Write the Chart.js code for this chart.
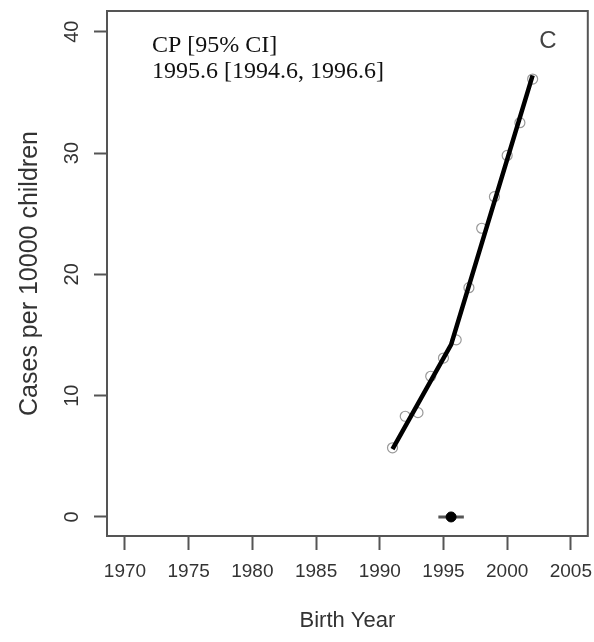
<!DOCTYPE html>
<html>
<head>
<meta charset="utf-8">
<script src="https://cdn.jsdelivr.net/npm/chart.js@4.4.0/dist/chart.umd.min.js"></script>
<style>
  body { margin: 0; background: #fff; }
  canvas { display: block; }
</style>
</head>
<body>
<canvas id="canvas" width="594" height="642"></canvas>
<script>
// observed rates by birth year
const years = [1991, 1992, 1993, 1994, 1995, 1996, 1997, 1998, 1999, 2000, 2001, 2002];
const cases = [5.7, 8.3, 8.6, 11.6, 13.1, 14.6, 18.9, 23.8, 26.4, 29.8, 32.5, 36.1];

// joinpoint fit
const fitYears = [1991, 1995.6, 2002];
const fitCases = [5.6, 14.2, 36.4];

// change point and its 95% CI
const cpYear = 1995.6;
const cpLow = 1994.6;
const cpHigh = 1996.6;

const xTicks = [1970, 1975, 1980, 1985, 1990, 1995, 2000, 2005];
const yTicks = [0, 10, 20, 30, 40];

const sans = '"Liberation Sans", Arial, sans-serif';

function pts(xs, ys) {
  return xs.map((x, i) => ({ x: x, y: ys[i] }));
}

// R style box + annotation text
const extras = {
  id: 'extras',
  afterDraw(chart) {
    const c = chart.ctx;
    const a = chart.chartArea;
    c.save();
    c.strokeStyle = '#555';
    c.lineWidth = 2;
    c.strokeRect(a.left, a.top, a.right - a.left, a.bottom - a.top);

    c.fillStyle = '#111';
    c.font = '24px "Liberation Serif", "Times New Roman", serif';
    c.textAlign = 'left';
    c.textBaseline = 'alphabetic';
    c.fillText('CP [95% CI]', 152, 52);
    c.fillText(cpYear.toFixed(1) + ' [' + cpLow.toFixed(1) + ', ' + cpHigh.toFixed(1) + ']', 152, 78);

    c.fillStyle = '#444';
    c.font = '24px ' + sans;
    c.textAlign = 'center';
    c.textBaseline = 'middle';
    c.fillText('C', 548, 41);
    c.restore();
  }
};

const ctx = document.getElementById('canvas');
new Chart(ctx, {
  type: 'scatter',
  data: {
    datasets: [
      {
        label: 'fit',
        data: pts(fitYears, fitCases),
        showLine: true,
        borderColor: '#000',
        borderWidth: 4.5,
        pointRadius: 0,
        order: 0
      },
      {
        label: 'observed',
        data: pts(years, cases),
        pointRadius: 5,
        pointBorderWidth: 1.2,
        pointBorderColor: '#999',
        pointBackgroundColor: 'rgba(0,0,0,0)',
        order: 2
      },
      {
        label: 'CI',
        data: [{ x: cpLow, y: 0 }, { x: cpHigh, y: 0 }],
        showLine: true,
        borderColor: '#555',
        borderWidth: 3,
        pointRadius: 0,
        order: 1
      },
      {
        label: 'CP',
        data: [{ x: cpYear, y: 0 }],
        pointRadius: 5,
        pointBackgroundColor: '#000',
        pointBorderColor: '#000',
        order: 0
      }
    ]
  },
  options: {
    responsive: false,
    animation: false,
    layout: { padding: { top: 11, right: 6, left: 0, bottom: 0 } },
    plugins: {
      legend: { display: false },
      tooltip: { enabled: false }
    },
    scales: {
      x: {
        type: 'linear',
        min: 1968.59,
        max: 2006.33,
        afterFit(scale) {
          scale.height = 106;
          scale.paddingLeft = 0;
          scale.paddingRight = 0;
        },
        afterBuildTicks(scale) { scale.ticks = xTicks.map(v => ({ value: v })); },
        border: { display: false },
        grid: { drawOnChartArea: false, tickLength: 14, tickColor: '#555', tickWidth: 2 },
        ticks: {
          autoSkip: false,
          maxRotation: 0,
          padding: 10,
          color: '#333',
          font: { family: sans, size: 19 },
          callback: (v) => String(v)
        },
        title: {
          display: true,
          text: 'Birth Year',
          color: '#333',
          padding: { top: 0, bottom: 8 },
          font: { family: sans, size: 22 }
        }
      },
      y: {
        type: 'linear',
        min: -1.57,
        max: 41.71,
        afterFit(scale) {
          scale.width = 107;
          scale.paddingTop = 0;
          scale.paddingBottom = 0;
        },
        afterBuildTicks(scale) { scale.ticks = yTicks.map(v => ({ value: v })); },
        border: { display: false },
        grid: { drawOnChartArea: false, tickLength: 13, tickColor: '#555', tickWidth: 2 },
        ticks: {
          minRotation: 90,
          maxRotation: 90,
          crossAlign: 'center',
          padding: 10,
          color: '#333',
          font: { family: sans, size: 20 },
          callback: (v) => String(v)
        },
        title: {
          display: true,
          text: 'Cases per 10000 children',
          color: '#333',
          padding: { top: 15, bottom: 0 },
          font: { family: sans, size: 25 }
        }
      }
    }
  },
  plugins: [extras]
});
</script>
</body>
</html>
